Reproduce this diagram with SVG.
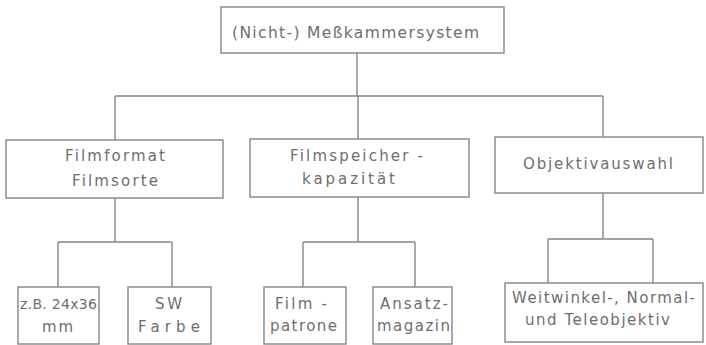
<svg xmlns="http://www.w3.org/2000/svg" width="706" height="345" viewBox="0 0 706 345">
<style>
.box{fill:none;stroke:#858585;stroke-width:1.4}
.ln{fill:none;stroke:#858585;stroke-width:1.4}
text{font-family:"DejaVu Sans","Liberation Sans",sans-serif;font-size:15px;fill:#6e6e6e}
</style>
<rect width="706" height="345" fill="#ffffff"/>
<g id="connectors">
<path class="ln" d="M357,53V96 M115,96H603 M115,96V140 M358,96V139 M603,96V137"/>
<path class="ln" d="M115,198V242 M58,242H172 M58,242V287 M172,242V287"/>
<path class="ln" d="M358,197V242 M303,242H415 M303,242V287 M415,242V287"/>
<path class="ln" d="M603,193V239 M548,239H653 M548,239V283 M653,239V283"/>
</g>
<g id="n-root">
<rect class="box" x="221" y="7" width="283" height="46"/>
<text x="232" y="38" textLength="247" lengthAdjust="spacing" style="font-size:15.5px">(Nicht-) Meßkammersystem</text>
</g>
<g id="n-film">
<rect class="box" x="6" y="140" width="217" height="58"/>
<text x="65" y="161" textLength="100" lengthAdjust="spacing">Filmformat</text>
<text x="72" y="186" textLength="86" lengthAdjust="spacing">Filmsorte</text>
</g>
<g id="n-speicher">
<rect class="box" x="250" y="139" width="219" height="58"/>
<text x="290" y="161" textLength="133" lengthAdjust="spacing">Filmspeicher -</text>
<text x="302" y="184" textLength="93" lengthAdjust="spacing">kapazität</text>
</g>
<g id="n-objektiv">
<rect class="box" x="495" y="137" width="208" height="56"/>
<text x="523" y="169" textLength="150" lengthAdjust="spacing">Objektivauswahl</text>
</g>
<g id="n-format">
<rect class="box" x="18" y="287" width="81" height="57"/>
<text x="20" y="309" textLength="77" lengthAdjust="spacing" style="font-size:14px">z.B. 24x36</text>
<text x="42" y="332" textLength="31" lengthAdjust="spacing">mm</text>
</g>
<g id="n-sorte">
<rect class="box" x="128" y="287" width="83" height="57"/>
<text x="155" y="309" textLength="27" lengthAdjust="spacing">S W</text>
<text x="138" y="332" textLength="62" lengthAdjust="spacing">Farbe</text>
</g>
<g id="n-patrone">
<rect class="box" x="264" y="287" width="82" height="57"/>
<text x="275" y="309" textLength="52" lengthAdjust="spacing">Film -</text>
<text x="270" y="331" textLength="67" lengthAdjust="spacing">patrone</text>
</g>
<g id="n-magazin">
<rect class="box" x="373" y="287" width="79" height="57"/>
<text x="380" y="309" textLength="68" lengthAdjust="spacing">Ansatz-</text>
<text x="377" y="331" textLength="73" lengthAdjust="spacing">magazin</text>
</g>
<g id="n-linsen">
<rect class="box" x="505" y="283" width="198" height="59"/>
<text x="512" y="303" textLength="183" lengthAdjust="spacing">Weitwinkel-, Normal-</text>
<text x="525" y="325" textLength="145" lengthAdjust="spacing">und Teleobjektiv</text>
</g>
</svg>
